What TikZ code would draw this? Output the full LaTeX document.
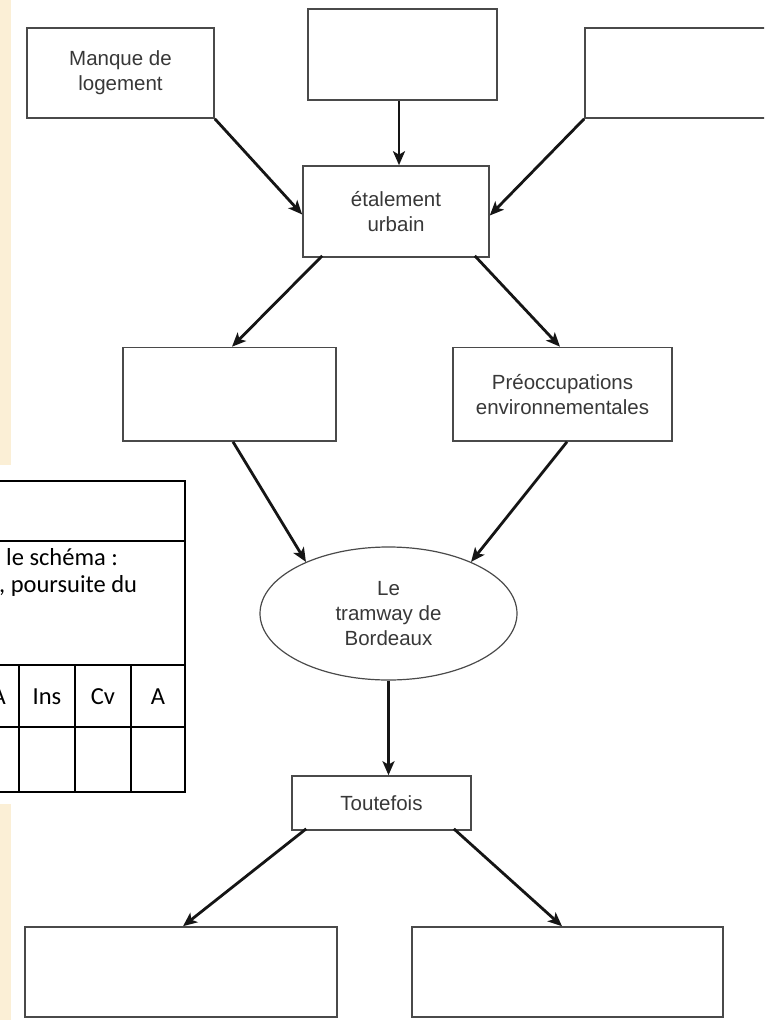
\documentclass[tikz,border=0pt]{standalone}
\usepackage{fontspec}
\setmainfont{Liberation Sans}
\newfontfamily\tabfont{Carlito}
\usetikzlibrary{shapes.geometric,arrows.meta}
\definecolor{parch}{HTML}{FBEFD6}
\definecolor{boxline}{HTML}{4A4A4A}
\definecolor{txt}{HTML}{383838}
\definecolor{arr}{HTML}{151515}
\begin{document}
\begin{tikzpicture}[x=1pt,y=-1pt,
  box/.style={draw=boxline,line width=1.6pt,fill=white,inner sep=0pt,align=center,
    text=txt,font=\fontsize{20.5}{25}\selectfont},
  oval/.style={box,ellipse,line width=1.2pt},
  link/.style={draw=arr,line width=2.8pt,-{Stealth[length=14pt,width=12pt,inset=3.5pt]}},
  tabline/.style={draw=black,line width=2.6pt},
  tabtext/.style={inner sep=0pt,font=\tabfont\fontsize{24.5}{29}\selectfont,text=black}]
\useasboundingbox (0,0) rectangle (764,1020);
\clip (0,0) rectangle (764,1020);
% parchment strip
\fill[parch] (0,0) rectangle (11,465);
\fill[parch] (0,804) rectangle (11,1020);
% table fragment
\fill[white] (-5,478) rectangle (188,795);
\draw[tabline] (-5,481) -- (185,481) -- (185,792) -- (-5,792);
\draw[tabline] (-5,541) -- (185,541);
\draw[tabline] (-5,665) -- (185,665);
\draw[tabline] (-5,727) -- (185,727);
\draw[tabline] (19,665) -- (19,792);
\draw[tabline] (75,665) -- (75,792);
\draw[tabline] (131,665) -- (131,792);
\node[tabtext,anchor=west] (t1) at (6,557) {le schéma :};
\node[tabtext,anchor=west] (t2) at (-1,586) {, poursuite du};
\node[tabtext,anchor=east] (t3) at (6,697) {A};
\node[tabtext] (t4) at (47,697) {Ins};
\node[tabtext] (t5) at (103,697) {Cv};
\node[tabtext] (t6) at (158,697) {A};
% diagram nodes
\node[box,minimum width=187pt,minimum height=90pt] (b1) at (120.5,73) {Manque de\\logement};
\node[box,minimum width=189pt,minimum height=91pt] (b2) at (402.5,54.5) {};
\node[box,minimum width=187pt,minimum height=90pt] (b3) at (678.5,73) {};
\node[box,minimum width=186pt,minimum height=91pt] (et) at (396,211.5) {étalement\\urbain};
\node[box,minimum width=213pt,minimum height=93.5pt] (lm) at (229.5,394.25) {};
\node[box,minimum width=219pt,minimum height=93.5pt] (pr) at (562.5,394.25) {Préoccupations\\environnementales};
\node[oval,minimum width=257pt,minimum height=133pt] (el) at (388.5,613.5) {Le\\tramway de\\Bordeaux};
\node[box,minimum width=179pt,minimum height=54pt] (tf) at (381.5,803) {Toutefois};
\node[box,minimum width=312pt,minimum height=90pt] (bl) at (181,972) {};
\node[box,minimum width=311pt,minimum height=90pt] (br) at (567.5,972) {};
% connectors
\draw[link] (b1.south east) -- ([yshift=-3pt]et.west);
\draw[link] ([xshift=-3.5pt]b2.south) -- ([xshift=3pt]et.north);
\draw[link] (b3.south west) -- ([yshift=-4pt]et.east);
\draw[link] ([xshift=20pt,yshift=2pt]et.south west) -- ([xshift=2.5pt]lm.north);
\draw[link] ([xshift=-15pt,yshift=2pt]et.south east) -- ([xshift=-2.5pt]pr.north);
\draw[link] ([xshift=3.5pt]lm.south) -- (el.148);
\draw[link] ([xshift=4.5pt]pr.south) -- (el.32);
\draw[link] (el.south) -- (el.south |- tf.north);
\draw[link] ([xshift=15pt,yshift=2pt]tf.south west) -- ([xshift=2pt]bl.north);
\draw[link] ([xshift=-18pt,yshift=2pt]tf.south east) -- ([xshift=-5.5pt]br.north);
\end{tikzpicture}
\end{document}
